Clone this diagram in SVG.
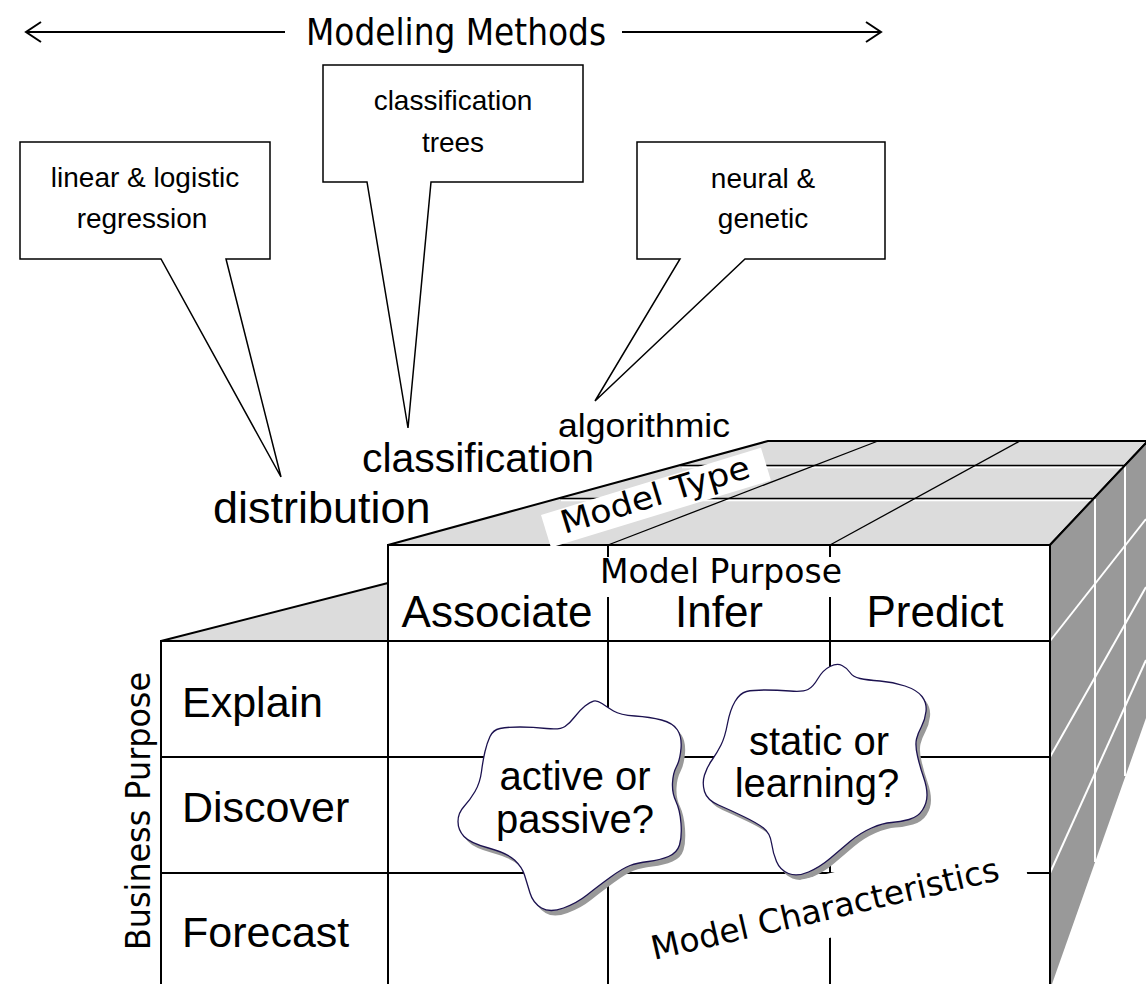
<svg xmlns="http://www.w3.org/2000/svg" width="1146" height="984" viewBox="0 0 1146 984">
  <style>
    .ln { stroke: #000; stroke-width: 2; fill: none; }
    .thin { stroke: #000; stroke-width: 1.3; fill: none; }
    .hl { stroke: #fff; stroke-width: 1.6; fill: none; }
    .wl { stroke: #fff; stroke-width: 2; fill: none; }
    .sans { font-family: "Liberation Sans", Arial, sans-serif; fill: #000; }
    .hand { font-family: "Comic Sans MS", "DejaVu Sans", sans-serif; fill: #000; }
    .callout { fill: #fff; stroke: #000; stroke-width: 1.5; stroke-linejoin: miter; }
    .cloud { fill: #fff; stroke: #1c1250; stroke-width: 1.3; }
    .cloud-shadow { fill: #999; }
  </style>
  <defs>
    <path id="blob-active" d="M593.5,701 Q597,700 602,703.5 Q607,707 613.5,711 Q620,715 635,716 Q650,717 661.5,720 Q673,723 677.5,730 Q682,737 681,748.5 Q680,760 676.5,766.5 Q673,773 672.5,783 Q672,793 676,801.5 Q680,810 681,823.5 Q682,837 679.5,845 Q677,853 668.5,856.5 Q660,860 648.5,861.5 Q637,863 630,865.5 Q623,868 610,877.5 Q597,887 587,895 Q577,903 563.5,908 Q550,913 541.5,908 Q533,903 530,893 Q527,883 524.5,875 Q522,867 514.5,860 Q507,853 488.5,848 Q470,843 464,836.5 Q458,830 458,821.5 Q458,813 464,806.5 Q470,800 475,791.5 Q480,783 481.5,771.5 Q483,760 485,751.5 Q487,743 490,736.5 Q493,730 500,728.5 Q507,727 520,727 Q533,727 546.5,728.5 Q560,730 565,726.5 Q570,723 575,716.5 Q580,710 585,706 Q590,702 593.5,701 Z"/>
    <path id="blob-static" d="M830,666.5 Q837,663 842,665.5 Q847,668 850,672.5 Q853,677 860,678.5 Q867,680 880,681 Q893,682 905,686 Q917,690 922,696.5 Q927,703 926,711.5 Q925,720 921.5,726.5 Q918,733 916.5,739 Q915,745 917.5,756 Q920,767 923.5,777 Q927,787 927,795 Q927,803 922.5,810 Q918,817 909,819.5 Q900,822 891.5,822.5 Q883,823 871.5,828 Q860,833 850,841.5 Q840,850 830,858.5 Q820,867 808.5,872 Q797,877 788.5,873.5 Q780,870 776.5,861.5 Q773,853 771.5,843 Q770,833 763.5,828 Q757,823 743.5,816.5 Q730,810 718.5,805 Q707,800 704.5,791.5 Q702,783 704.5,775 Q707,767 712,760 Q717,753 721,745 Q725,737 727.5,723.5 Q730,710 735,701.5 Q740,693 746.5,691.5 Q753,690 765,690 Q777,690 790,691 Q803,692 808,689.5 Q813,687 818,678.5 Q823,670 830,666.5 Z"/>
  </defs>

  <rect width="1146" height="984" fill="#fff"/>

  <!-- double-headed arrow under the heading -->
  <g id="connectors">
    <line class="ln" x1="26" y1="32" x2="285" y2="32"/>
    <polyline class="ln" points="41,22 26,32 41,42"/>
    <line class="ln" x1="622" y1="32" x2="881" y2="32"/>
    <polyline class="ln" points="866,22 881,32 866,42"/>
  </g>

  <g id="title">
    <text class="hand" x="456" y="45" font-size="38" text-anchor="middle" textLength="300" lengthAdjust="spacingAndGlyphs">Modeling Methods</text>
  </g>

  <!-- speech-bubble callouts for the method families -->
  <g id="callout-regression">
    <path class="callout" d="M20,142 H270 V259 H226 L281,477 L161,259 H20 Z"/>
    <text class="sans" x="145" y="187" font-size="28" text-anchor="middle">linear &amp; logistic</text>
    <text class="sans" x="142" y="228" font-size="28" text-anchor="middle">regression</text>
  </g>
  <g id="callout-trees">
    <path class="callout" d="M323,65 H583 V182 H431 L408,428 L367,182 H323 Z"/>
    <text class="sans" x="453" y="110" font-size="28" text-anchor="middle">classification</text>
    <text class="sans" x="453" y="152" font-size="28" text-anchor="middle">trees</text>
  </g>
  <g id="callout-neural">
    <path class="callout" d="M637,142 H885 V259 H745 L595,401 L680,259 H637 Z"/>
    <text class="sans" x="763" y="188" font-size="28" text-anchor="middle">neural &amp;</text>
    <text class="sans" x="763" y="228" font-size="28" text-anchor="middle">genetic</text>
  </g>

  <!-- model type words along the top face -->
  <g id="model-types">
    <text class="sans" x="213" y="523" font-size="45">distribution</text>
    <text class="sans" x="362" y="472" font-size="40" textLength="232" lengthAdjust="spacingAndGlyphs">classification</text>
    <text class="sans" x="558" y="437" font-size="34" textLength="172" lengthAdjust="spacingAndGlyphs">algorithmic</text>
  </g>

  <!-- the cube -->
  <g id="cube">
    <!-- top face -->
    <polygon points="388,545 768,441 1146,441 1146,443 1050,545" fill="#dcdcdc" stroke="#000" stroke-width="2" stroke-linejoin="round"/>
    <line class="hl" x1="682" y1="467.5" x2="1125" y2="467.5"/>
    <line class="hl" x1="561" y1="500.5" x2="1095" y2="500.5"/>
    <line class="thin" x1="680" y1="465.5" x2="1125" y2="465.5"/>
    <line class="thin" x1="560" y1="498.5" x2="1095" y2="498.5"/>
    <line class="thin" x1="608" y1="545" x2="878" y2="441"/>
    <line class="thin" x1="830" y1="545" x2="1020" y2="441"/>

    <!-- right face -->
    <polygon points="1050,545 1146,443 1146,718 1052,984 1050,984" fill="#999"/>
    <line class="wl" x1="1125" y1="466" x2="1125" y2="776"/>
    <line class="wl" x1="1095" y1="499" x2="1095" y2="862"/>
    <line class="wl" x1="1050" y1="641" x2="1146" y2="519"/>
    <line class="wl" x1="1050" y1="757" x2="1146" y2="587"/>
    <line class="wl" x1="1050" y1="873" x2="1146" y2="660"/>
    <line class="ln" x1="1050" y1="545" x2="1146" y2="443"/>

    <!-- front face and business-purpose block -->
    <rect x="388" y="545" width="662" height="460" fill="#fff" stroke="#000" stroke-width="2"/>
    <rect x="161" y="641" width="227" height="360" fill="#fff" stroke="#000" stroke-width="2"/>
    <polygon points="161,641 388,583 388,641" fill="#dcdcdc" stroke="#000" stroke-width="2" stroke-linejoin="round"/>

    <!-- grid -->
    <line class="ln" x1="161" y1="641" x2="1050" y2="641"/>
    <line class="ln" x1="161" y1="757" x2="1050" y2="757"/>
    <line class="ln" x1="161" y1="873" x2="1050" y2="873"/>
    <line class="ln" x1="608" y1="545" x2="608" y2="557"/>
    <line class="ln" x1="608" y1="597" x2="608" y2="984"/>
    <line class="ln" x1="830" y1="545" x2="830" y2="557"/>
    <line class="ln" x1="830" y1="597" x2="830" y2="984"/>

    <text class="hand" x="721" y="583" font-size="33" text-anchor="middle" textLength="242" lengthAdjust="spacingAndGlyphs">Model Purpose</text>
    <text class="sans" x="497" y="627" font-size="44" text-anchor="middle">Associate</text>
    <text class="sans" x="719" y="627" font-size="44" text-anchor="middle">Infer</text>
    <text class="sans" x="935" y="627" font-size="44" text-anchor="middle">Predict</text>

    <text class="sans" x="182" y="717" font-size="43">Explain</text>
    <text class="sans" x="182" y="822" font-size="43">Discover</text>
    <text class="sans" x="182" y="947" font-size="43">Forecast</text>

    <text class="hand" transform="translate(150,811) rotate(-90)" x="0" y="0" font-size="33" text-anchor="middle" textLength="278" lengthAdjust="spacingAndGlyphs">Business Purpose</text>
  </g>

  <g id="label-model-type" transform="translate(541,515) rotate(-17)">
    <rect x="0" y="0" width="230" height="34" fill="#fff"/>
    <text class="hand" x="115" y="25" font-size="32" text-anchor="middle" textLength="196" lengthAdjust="spacingAndGlyphs">Model Type</text>
  </g>

  <!-- question clouds -->
  <g id="cloud-active">
    <use href="#blob-active" class="cloud-shadow" transform="translate(4,5)"/>
    <use href="#blob-active" class="cloud"/>
    <text class="sans" x="575" y="790" font-size="40" text-anchor="middle">active or</text>
    <text class="sans" x="575" y="833" font-size="40" text-anchor="middle">passive?</text>
  </g>
  <g id="cloud-static">
    <use href="#blob-static" class="cloud-shadow" transform="translate(4,5)"/>
    <use href="#blob-static" class="cloud"/>
    <text class="sans" x="819" y="755" font-size="40" text-anchor="middle">static or</text>
    <text class="sans" x="817" y="797" font-size="40" text-anchor="middle">learning?</text>
  </g>

  <g id="label-characteristics" transform="translate(640,917) rotate(-13)">
    <rect x="0" y="0" width="387" height="63" fill="#fff"/>
    <text class="hand" x="4" y="45" font-size="33" textLength="356" lengthAdjust="spacingAndGlyphs">Model Characteristics</text>
  </g>
</svg>
